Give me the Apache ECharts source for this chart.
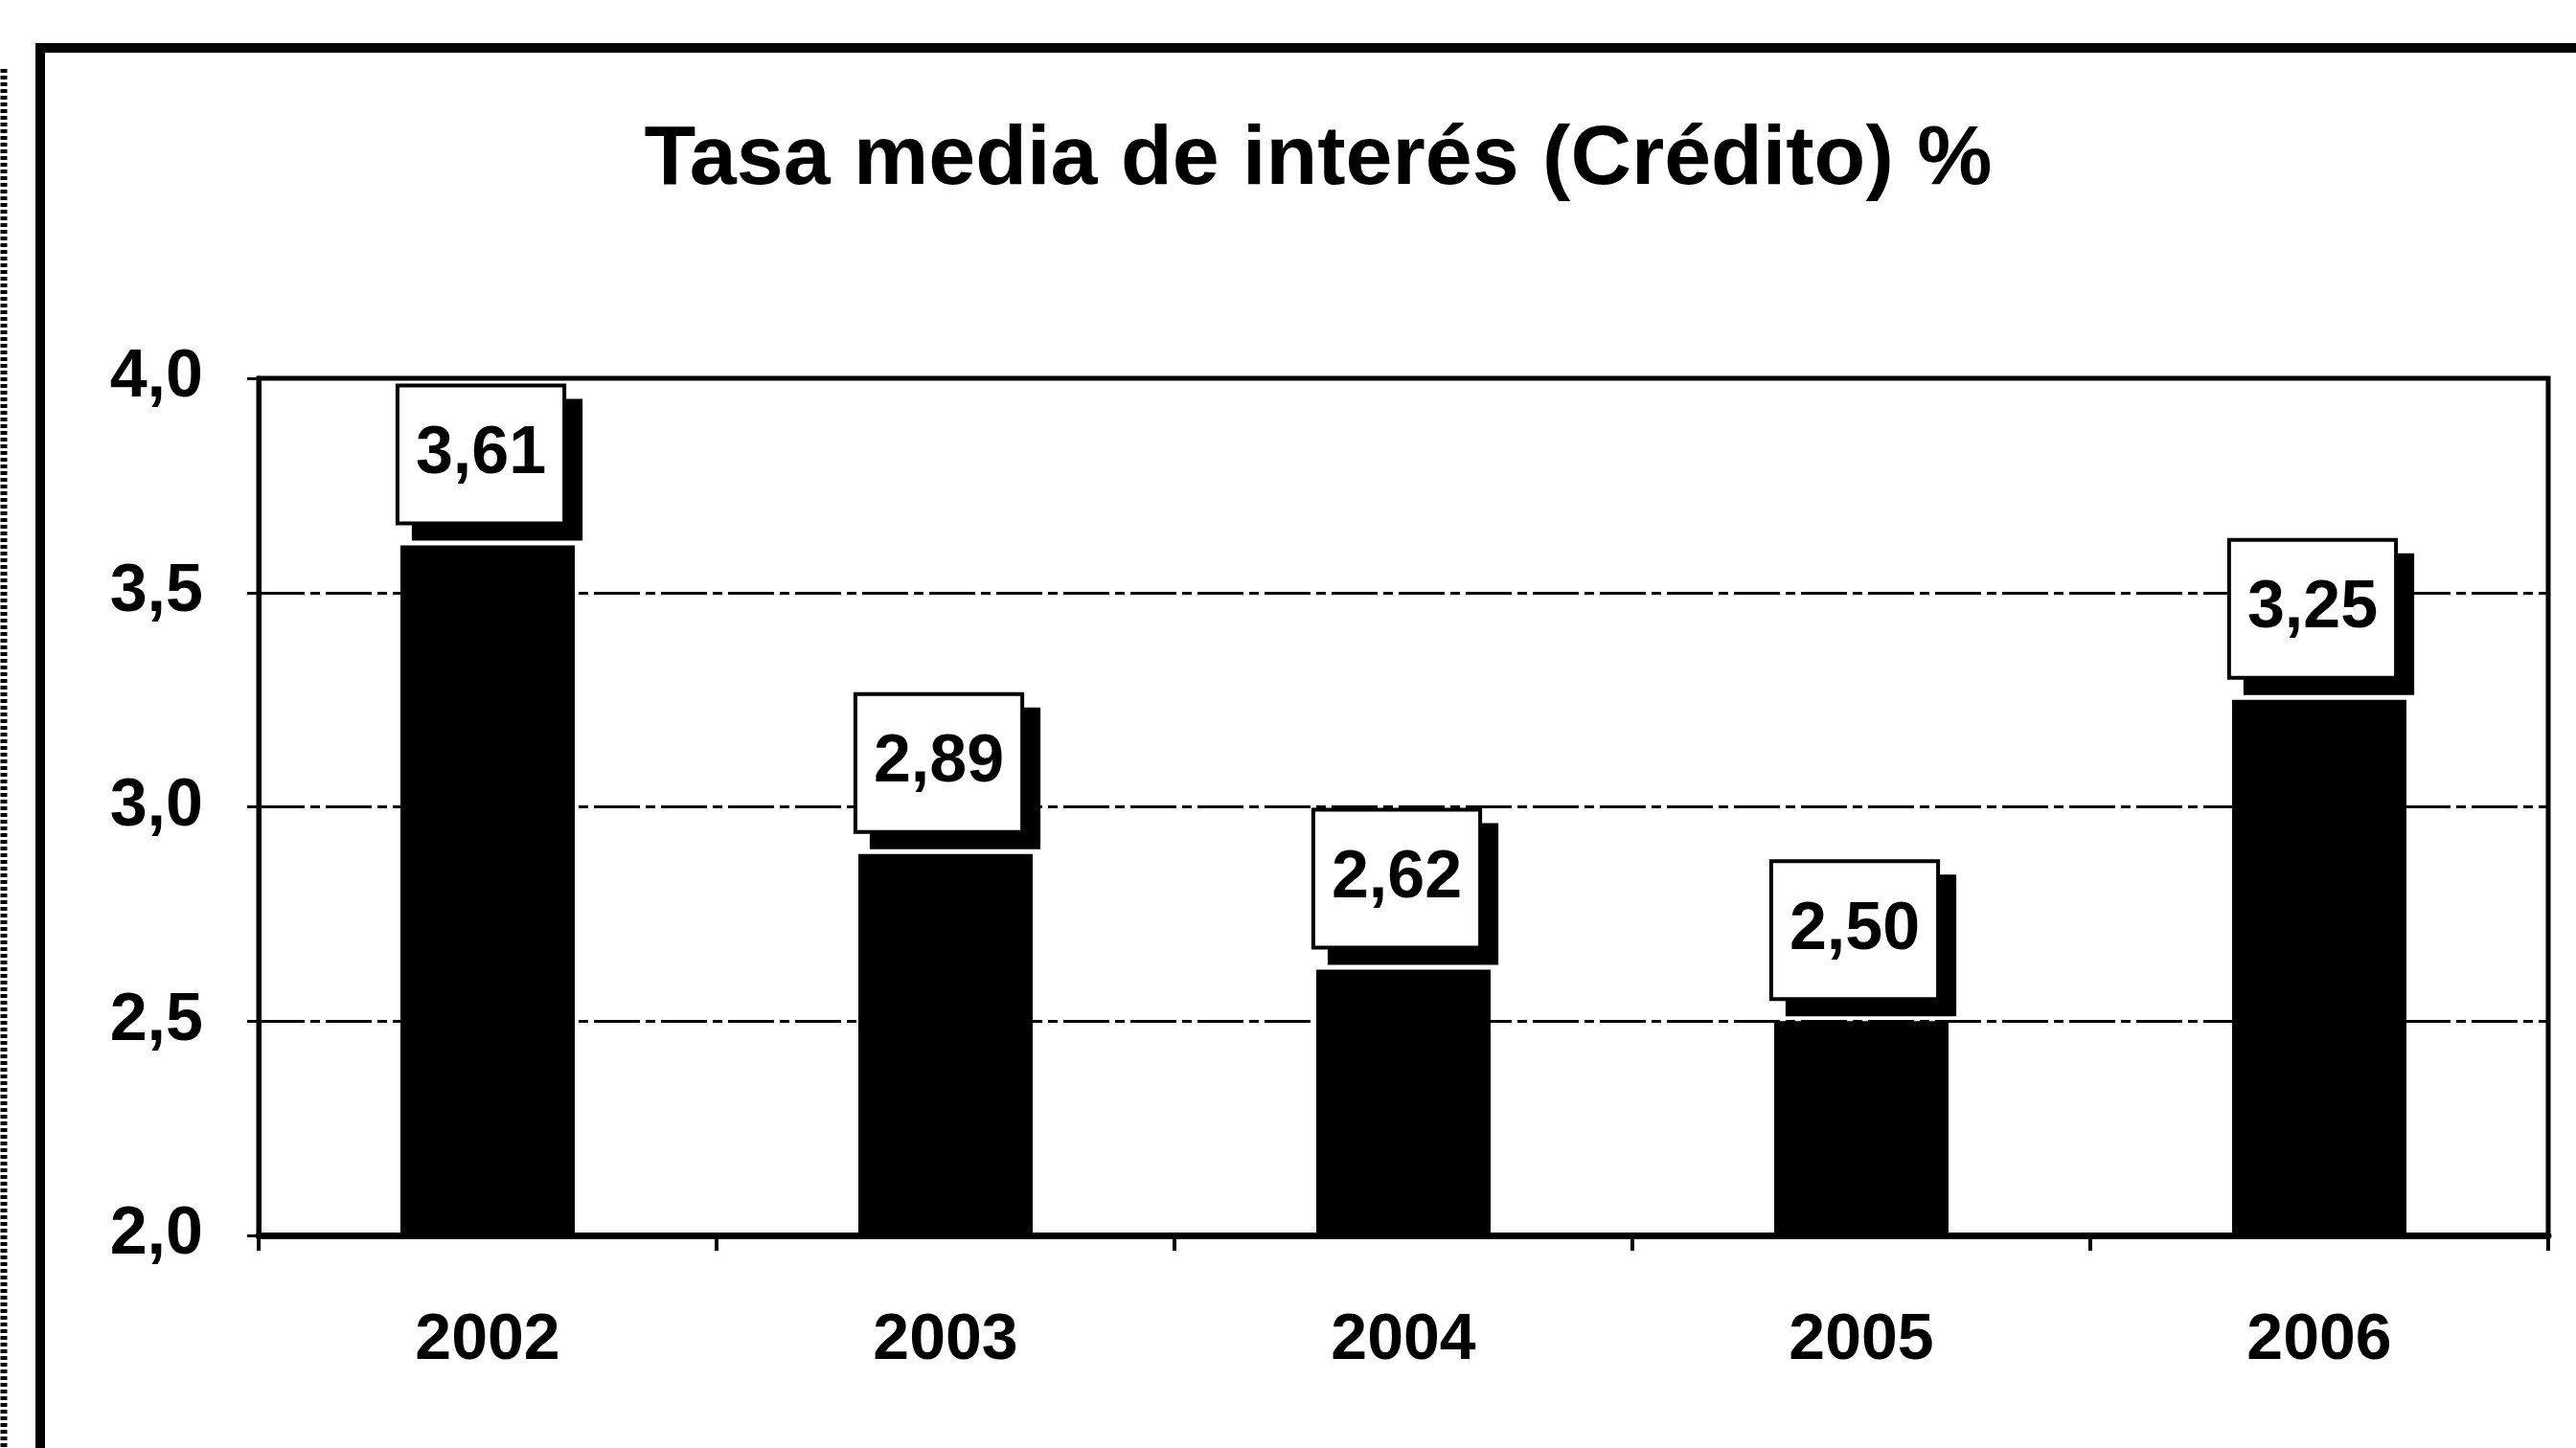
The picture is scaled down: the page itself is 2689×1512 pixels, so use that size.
<!DOCTYPE html>
<html>
<head>
<meta charset="utf-8">
<title>Tasa media de interés (Crédito) %</title>
<script src="https://cdn.jsdelivr.net/npm/echarts@6/dist/echarts.min.js"></script>
<style>
  html, body { margin: 0; padding: 0; background: #fff; }
  #chart { width: 2689px; height: 1512px; }
</style>
</head>
<body>
<div id="chart"></div>
<script>
// Average credit interest rate by year
const years = ['2002', '2003', '2004', '2005', '2006'];
const rates = [3.61, 2.89, 2.62, 2.50, 3.25];
const yMin = 2.0;
const yMax = 4.0;
const yStep = 0.5;
const titleText = 'Tasa media de interés (Crédito) %';

const FONT = '"Liberation Sans", Arial, Helvetica, sans-serif';
const comma = (v, d) => v.toFixed(d).replace('.', ',');

const chart = echarts.init(document.getElementById('chart'), null, { renderer: 'canvas' });

chart.setOption({
  animation: false,
  backgroundColor: '#ffffff',
  graphic: [
    // outer frame (runs off the right and bottom edges)
    {
      type: 'rect', silent: true, z: 0,
      shape: { x: 42, y: 50, width: 3000, height: 3000 },
      style: { fill: null, stroke: '#000', lineWidth: 10 }
    },
    // dotted edge on the far left
    {
      type: 'line', silent: true, z: 0,
      shape: { x1: 4, y1: 72, x2: 4, y2: 1512 },
      style: { stroke: '#000', lineWidth: 7, lineDash: [4, 3] }
    },
    {
      type: 'text', silent: true, z: 10,
      x: 1376, y: 168,
      style: {
        text: titleText,
        font: 'bold 88px ' + FONT,
        fill: '#000',
        align: 'center',
        verticalAlign: 'middle'
      }
    }
  ],
  grid: {
    left: 270, right: 29, top: 395, bottom: 222,
    show: true,
    borderColor: '#000',
    borderWidth: 5,
    backgroundColor: 'transparent'
  },
  xAxis: {
    type: 'category',
    data: years,
    axisLine: { show: true, lineStyle: { color: '#000', width: 7 } },
    axisTick: { show: true, length: 16, lineStyle: { color: '#000', width: 4 } },
    axisLabel: {
      margin: 76,
      color: '#000',
      fontFamily: FONT,
      fontWeight: 'bold',
      fontSize: 68
    },
    splitLine: { show: false }
  },
  yAxis: {
    type: 'value',
    min: yMin,
    max: yMax,
    interval: yStep,
    axisLine: { show: true, lineStyle: { color: '#000', width: 5 } },
    axisTick: { show: true, length: 12, lineStyle: { color: '#000', width: 3 } },
    axisLabel: {
      margin: 58,
      color: '#000',
      fontFamily: FONT,
      fontWeight: 'bold',
      fontSize: 70,
      formatter: v => comma(v, 1)
    },
    splitLine: {
      show: true,
      lineStyle: { color: '#000', width: 3, type: [48, 6, 10, 6] }
    }
  },
  series: [{
    type: 'bar',
    data: rates,
    barWidth: 182,
    itemStyle: { color: '#000' },
    label: {
      show: true,
      position: 'top',
      distance: 25,
      offset: [-7, 0],
      formatter: p => comma(p.value, 2),
      color: '#000',
      fontFamily: FONT,
      fontWeight: 'bold',
      fontSize: 70,
      lineHeight: 70,
      backgroundColor: '#fff',
      borderColor: '#000',
      borderWidth: 4,
      padding: [35, 17, 35, 17],
      shadowColor: '#000',
      shadowBlur: 0,
      shadowOffsetX: 17,
      shadowOffsetY: 16
    }
  }]
});
</script>
</body>
</html>
